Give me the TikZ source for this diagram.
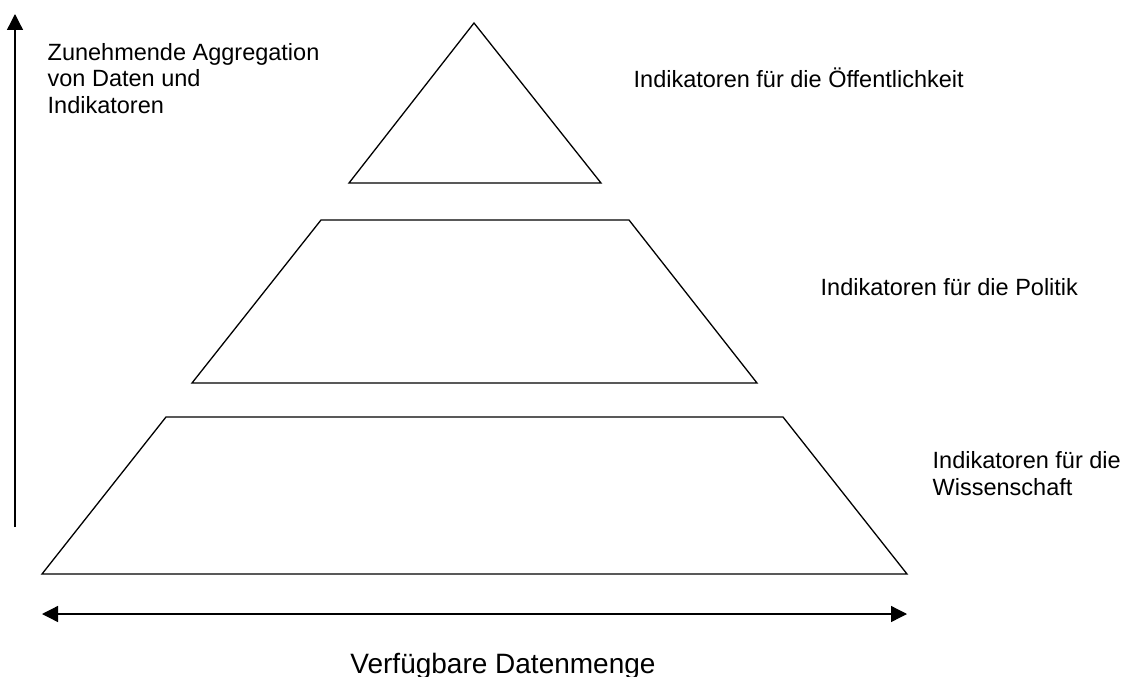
\documentclass[tikz,border=0pt]{standalone}
\usepackage{fontspec}
\setmainfont{Liberation Sans}
\usetikzlibrary{arrows.meta}

\begin{document}
\begin{tikzpicture}[x=1pt,y=-1pt,line width=1.3pt,
  >={Triangle[length=16pt,width=16pt]},
  lbl/.style={inner sep=0pt,font=\fontsize{23.5}{26.5}\selectfont,align=left}]
\useasboundingbox (0,0) rectangle (1132,677);

% top triangle
\coordinate (T) at (474,23);
\coordinate (TL) at (349,183);
\coordinate (TR) at (601,183);

% middle trapezoid
\coordinate (MA) at (321,220);
\coordinate (MB) at (629,220);
\coordinate (MC) at (757,383);
\coordinate (MD) at (192,383);

% bottom trapezoid
\coordinate (BA) at (166,417);
\coordinate (BB) at (783,417);
\coordinate (BC) at (907,574);
\coordinate (BD) at (42,574);

% axes
\coordinate (VB) at (15,527);
\coordinate (VT) at (15,14);
\coordinate (HL) at (42,614);
\coordinate (HR) at (907,614);

\draw (T) -- (TR) -- (TL) -- cycle;
\draw (MA) -- (MB) -- (MC) -- (MD) -- cycle;
\draw (BA) -- (BB) -- (BC) -- (BD) -- cycle;

\draw[->] (VB) -- (VT);
\draw[<->] (HL) -- (HR);

% labels (base = last line)
\node[lbl,anchor=base west] (aggr) at (47,113) {Zunehmende Aggregation\\von Daten und\\Indikatoren};
\node[lbl,anchor=base west] (oeff) at (633,87) {Indikatoren für die Öffentlichkeit};
\node[lbl,anchor=base west] (poli) at (820,295) {Indikatoren für die Politik};
\node[lbl,anchor=base west] (wiss) at (932,495) {Indikatoren für die\\Wissenschaft};
\node[inner sep=0pt,font=\fontsize{28}{32}\selectfont,anchor=base] (menge) at (503,673) {Verfügbare Datenmenge};
\end{tikzpicture}
\end{document}
